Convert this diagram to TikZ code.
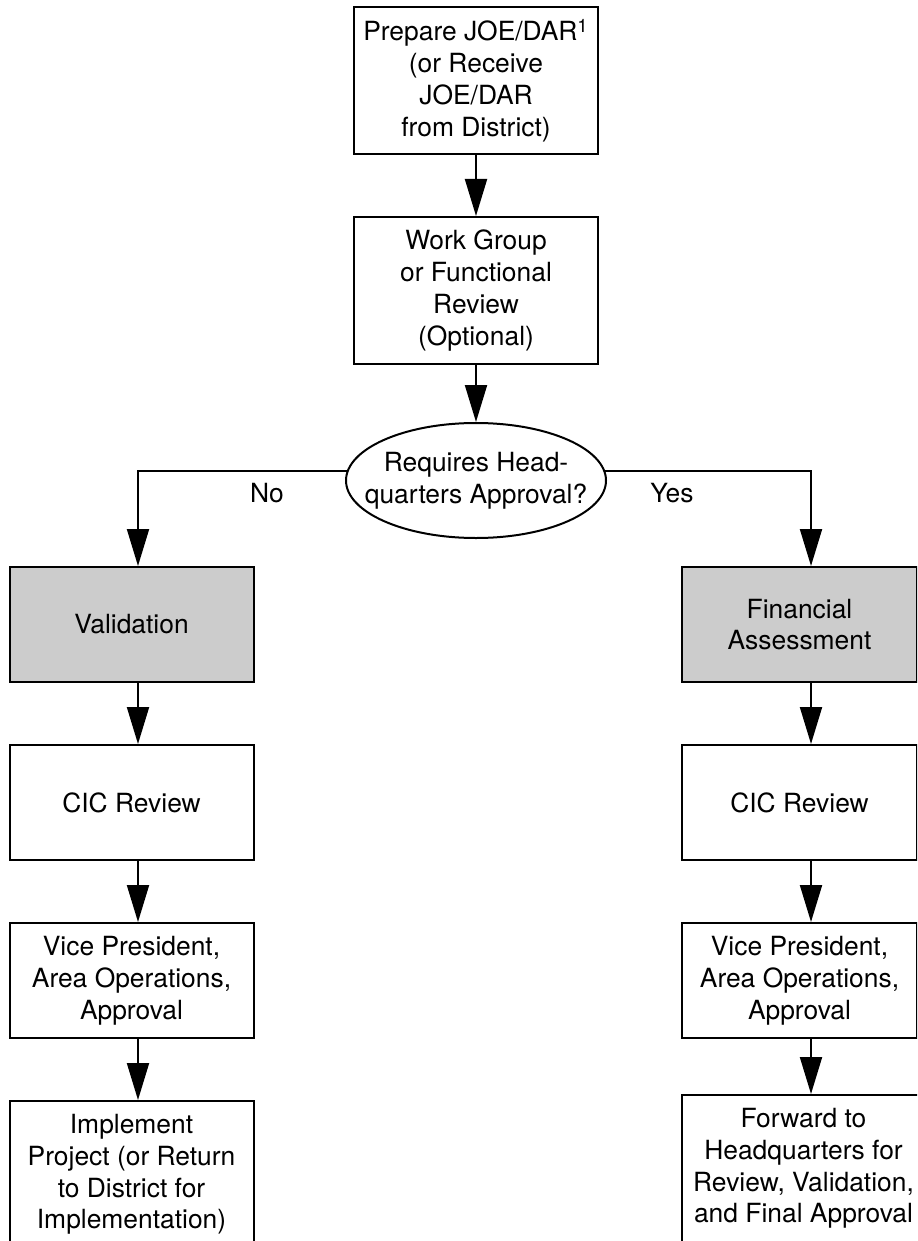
\documentclass[tikz,border=0pt]{standalone}
\usepackage{fontspec}
\setmainfont{TeX Gyre Heros}
\usetikzlibrary{positioning,shapes.geometric,arrows.meta}

\begin{document}
\begin{tikzpicture}[x=0.5pt,y=-0.5pt,
        procBox/.style={draw, line width=1pt, inner sep=0pt, align=center, minimum width=122pt, minimum height=57.5pt, font=\fontsize{13.2}{15.9}\selectfont},
        tallBox/.style={procBox, minimum height=73.5pt},
        grayBox/.style={procBox, fill=black!20},
        rightBox/.style={minimum width=117.5pt},
        decision/.style={ellipse, draw, line width=1pt, inner xsep=-10pt, inner ysep=0pt, align=center, minimum width=130pt, minimum height=57.5pt, font=\fontsize{13.2}{15.9}\selectfont},
        arr/.style={line width=1pt, -{Triangle[length=18.5pt,width=11pt]}}]
        \useasboundingbox (0,0) rectangle (917,1241);
        \clip (0,0) rectangle (917,1241);

        \node[tallBox] (PrepJoe) at (476,80.5) {Prepare JOE/DAR\textsuperscript{1}\\(or Receive\\JOE/DAR\\from District)};
        \node[tallBox, below=30.5pt of PrepJoe] (WorkGroup) {Work Group\\or Functional\\Review\\(Optional)};
        \node[decision] (HqApproval) at (476,480.5) {Requires Head-\\quarters Approval?};

        \coordinate (NoCol) at (138,0);
        \coordinate (YesCol) at (811,0);

        \node[grayBox] (Valid) at (131.5,624.5) {Validation};
        \node[procBox, below=30.5pt of Valid] (CicLeft) {CIC Review};
        \node[procBox, below=30.5pt of CicLeft] (VpLeft) {Vice President,\\Area Operations,\\Approval};
        \node[procBox, minimum height=73.5pt, below=30.5pt of VpLeft] (Implement) {Implement\\Project (or Return\\to District for\\Implementation)};

        \node[grayBox, rightBox] (FinAssess) at (799.5,624.5) {Financial\\Assessment};
        \node[procBox, rightBox, below=30.5pt of FinAssess] (CicRight) {CIC Review};
        \node[procBox, rightBox, below=30.5pt of CicRight] (VpRight) {Vice President,\\Area Operations,\\Approval};
        \node[procBox, minimum height=73.5pt, minimum width=121.5pt] (Forward) at (803.5,1168.5) {Forward to\\Headquarters for\\Review, Validation,\\and Final Approval};

        \draw[arr] (PrepJoe) -- (WorkGroup);
        \draw[arr] (WorkGroup) -- (HqApproval);
        \draw[arr] (HqApproval.176) -| (Valid.north -| NoCol);
        \draw[arr] (HqApproval.4) -| (FinAssess.north -| YesCol);

        \draw[arr] (Valid.south -| NoCol) -- (CicLeft.north -| NoCol);
        \draw[arr] (CicLeft.south -| NoCol) -- (VpLeft.north -| NoCol);
        \draw[arr] (VpLeft.south -| NoCol) -- (Implement.north -| NoCol);

        \draw[arr] (FinAssess.south -| YesCol) -- (CicRight.north -| YesCol);
        \draw[arr] (CicRight.south -| YesCol) -- (VpRight.north -| YesCol);
        \draw[arr] (VpRight.south -| YesCol) -- (Forward.north -| YesCol);

        \node[anchor=base, font=\fontsize{13.2}{15.9}\selectfont] (NoLabel) at (267,502) {No};
        \node[anchor=base, font=\fontsize{13.2}{15.9}\selectfont] (YesLabel) at (672,502) {Yes};
    \end{tikzpicture}
\end{document}
